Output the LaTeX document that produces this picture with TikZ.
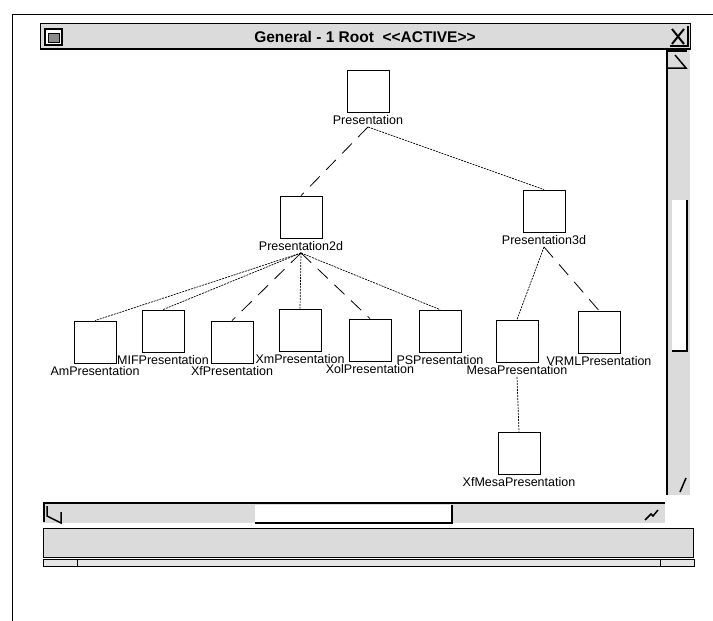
\documentclass[tikz,border=0pt]{standalone}
\usepackage{fontspec}
\setmainfont{Liberation Sans}
\begin{document}
\begin{tikzpicture}[x=1pt, y=-1pt,
  pbox/.style={draw, line width=0.8pt, minimum size=42pt, inner sep=0pt},
  plabel/.style={anchor=north, inner sep=2.5pt, font=\fontsize{12.5}{14}\selectfont},
  fine/.style={line width=0.7pt, dash pattern=on 2pt off 1pt},
  longdash/.style={line width=0.8pt, dash pattern=on 14pt off 9pt},
  stipple/.style={fill=black!14},
  ]
\useasboundingbox (0,0) rectangle (713,621);
% Outer frame
\draw[line width=1pt] (12,621) -- (12,14) -- (713,14);
% Title bar
\draw[stipple, line width=0.5pt] (40,23) rectangle (690,49);
\draw[line width=2pt] (40,49) -- (690,49);
\draw[line width=1.8pt, fill=white] (45,29) rectangle (62,45);
\draw[fill=black!45] (48,33) rectangle (59,42);
\node[font=\bfseries\fontsize{15.5}{17}\selectfont] (title) at (365,37) {General - 1 Root\ \ {<}{<}ACTIVE{>}{>}};
\draw[line width=2pt] (672,29) -- (684,44) (684,29) -- (672,44);
\draw[line width=1.5pt] (688,26) -- (688,46) -- (670,46);

% Vertical scrollbar
\fill[stipple] (667,50) rectangle (690,495);
\draw[line width=2pt] (667,50) -- (667,495);
\draw[line width=1.5pt] (667,51) -- (687,51);
\draw[line width=1.5pt] (675,55) -- (686,68) -- (668,68);
\fill[white] (672,200) rectangle (687,351);
\draw[line width=1.8pt] (687,200) -- (687,351) -- (672,351);
\draw[line width=1.5pt] (680,492) -- (686,478);

% Horizontal scrollbar
\fill[stipple] (43,503) rectangle (665,523);
\draw[line width=2pt] (43,503) -- (665,503);
\draw[line width=1.5pt] (44,503) -- (44,522);
\draw[line width=1.5pt] (47,506) -- (47,516) -- (61,523) -- (61,512);
\fill[white] (255,505) rectangle (452,523);
\draw[line width=1.8pt] (452,505) -- (452,523) -- (255,523);
\draw[line width=1.5pt] (645,520) -- (651,514) -- (653,516) -- (658,510);

% Lower bands
\draw[stipple, line width=0.5pt] (43,528) rectangle (693,557);
\draw[line width=0.8pt, fill=black!10] (43,559) rectangle (694,566);
\draw[line width=0.8pt] (77,559) -- (77,566) (660,559) -- (660,566);

% Classes
\node[pbox] (root) at (368,91) {};
\node[plabel] (rootL) at (root.south) {Presentation};
\node[pbox] (p2d) at (301,217) {};
\node[plabel] (p2dL) at (p2d.south) {Presentation2d};
\node[pbox] (p3d) at (544,211) {};
\node[plabel] (p3dL) at (p3d.south) {Presentation3d};

\node[pbox] (am) at (95,342) {};
\node[plabel] (amL) at (am.south) {AmPresentation};
\node[pbox] (mif) at (163,331) {};
\node[plabel] (mifL) at (mif.south) {MIFPresentation};
\node[pbox] (xf) at (232,342) {};
\node[plabel] (xfL) at (xf.south) {XfPresentation};
\node[pbox] (xm) at (300,330) {};
\node[plabel] (xmL) at (xm.south) {XmPresentation};
\node[pbox] (xol) at (370,340) {};
\node[plabel] (xolL) at (xol.south) {XolPresentation};
\node[pbox] (ps) at (440,331) {};
\node[plabel] (psL) at (ps.south) {PSPresentation};

\node[pbox] (mesa) at (517,341) {};
\node[plabel] (mesaL) at (mesa.south) {MesaPresentation};
\node[pbox] (vrml) at (599,332) {};
\node[plabel] (vrmlL) at (vrml.south) {VRMLPresentation};
\node[pbox] (xfmesa) at (519,453) {};
\node[plabel] (xfmesaL) at (xfmesa.south) {XfMesaPresentation};

% Links
\draw[longdash] (rootL.south) -- (p2d.north);
\draw[fine] (rootL.south) -- (p3d.north);
\draw[fine] (p2dL.south) -- (am.north);
\draw[fine] (p2dL.south) -- (mif.north);
\draw[longdash] (p2dL.south) -- (xf.north);
\draw[fine] (p2dL.south) -- (xm.north);
\draw[longdash] (p2dL.south) -- (xol.north);
\draw[fine] (p2dL.south) -- (ps.north);
\draw[fine] (p3dL.south) -- (mesa.north);
\draw[longdash] (p3dL.south) -- (vrml.north);
\draw[fine] (mesaL.south) -- (xfmesa.north);
\end{tikzpicture}
\end{document}
